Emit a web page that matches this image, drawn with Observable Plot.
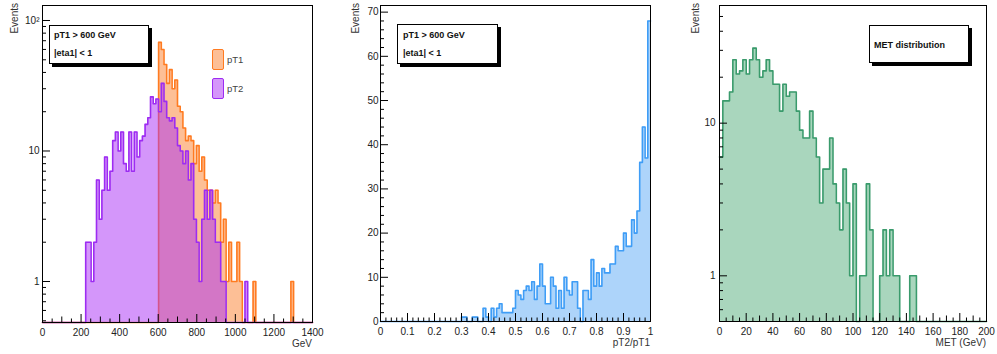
<!DOCTYPE html>
<html><head><meta charset="utf-8">
<script src="https://cdn.jsdelivr.net/npm/d3@7"></script>
<script src="https://cdn.jsdelivr.net/npm/@observablehq/plot@0.6"></script>
<style>
body{margin:0;background:#fff;font-family:"Liberation Sans",Arial,sans-serif;}
#wrap{position:relative;width:997px;height:354px;overflow:hidden;background:#fff;}
.panel{position:absolute;top:0;}
.box{position:absolute;border:1px solid #000;background:#fff;box-shadow:3px 3px 0 #000;box-sizing:border-box;}
.bt{position:absolute;font-weight:bold;font-size:9px;color:#111;white-space:nowrap;}
.t{position:absolute;font-size:10px;color:#333;white-space:nowrap;line-height:12px;}
.v{position:absolute;font-size:10px;color:#333;white-space:nowrap;writing-mode:vertical-rl;transform:rotate(180deg);line-height:12px;}
.sw{position:absolute;box-sizing:border-box;border-radius:2px;}
</style></head><body><div id="wrap"></div>
<script>
// ---------- data ----------
// Panel 1: pT1 / pT2 histograms, 100 bins of 14 GeV from 0 to 1400 GeV
const ptBinWidth = 14;
const pt1Counts = [
  0,0,0,0,0,0,0,0,0,0, 0,0,0,0,0,0,0,0,0,0,
  0,0,0,0,0,0,0,0,0,0, 0,0,0,0,0,0,0,0,0,0,
  0,0,0,68,60,46,33,42,30,35, 22,20,15,12,13,12,8,11,7,9,
  6,5,5,4,5,4,2,3,1,2, 1,1,2,1,0,0,0,0,1,0,
  0,0,0,0,0,0,0,0,0,0, 0,0,1,0,0,0,0,0,0,0];
const pt2Counts = [
  0,0,0,0,0,0,0,0,0,0, 0,0,0,0,0,0,2,2,1,2,
  6,3,5,9,5,7,12,14,10,14, 8,7,14,7,14,9,12,13,16,18,
  26,23,25,20,33,24,18,17,18,15, 11,10,8,10,6,8,3,2,1,3,
  5,3,5,3,2,2,1,1,0,0, 0,0,0,0,0,1,0,0,0,0,
  0,0,0,0,0,0,0,0,0,0, 0,0,0,0,0,0,0,0,0,0];
// Panel 2: pT2/pT1, 100 bins of 0.01
const ratioBinWidth = 0.01;
const ratioCounts = [
  0,0,0,0,0,0,0,0,0,0, 0,0,0,0,0,0,0,0,0,0,
  0,0,0,0,0,0,0,0,0,0, 1,1,0,0,1,1,0,0,3,1,
  0,3,1,3,4,2,2,2,2,3, 7,6,5,7,8,7,9,5,8,13,
  8,4,4,10,8,3,7,3,10,7, 6,9,9,3,0,7,7,5,14,8,
  11,8,12,11,11,13,13,17,16,16, 20,17,17,23,20,25,36,44,37,68];
// Panel 3: MET, 80 bins of 2.5 GeV
const metBinWidth = 2.5;
const metCounts = [
  6,14,14,16,26,21,22,26,21,26, 31,26,20,22,26,22,18,18,12,18,
  15,16,16,12,9,8,8,12,8,6, 3,5,5,8,4,3,2,5,3,1,
  4,0,1,1,4,2,0,0,1,2, 1,2,1,1,0,0,0,1,1,0,
  0,0,0,0,0,0,0,0,0,0, 0,0,0,0,0,0,0,0,0,0];

// tick labels
const xTicks1 = [0,200,400,600,800,1000,1200,1400];
const yTicks1 = [1,10,100];
const xTicks2 = [0,0.1,0.2,0.3,0.4,0.5,0.6,0.7,0.8,0.9,1];
const yTicks2 = [0,10,20,30,40,50,60,70];
const xTicks3 = [0,20,40,60,80,100,120,140,160,180,200];
const yTicks3 = [1,10];

// colours
const orangeLine = "#ff7b21", orangeFill = "#fdbf96";
const purpleLine = "#9d2cf2", purpleFill = "#a92df5";
const blueLine = "#3f9df6", blueFill = "#add4fa";
const greenLine = "#3a9b6c", greenFill = "#a9d6bd";

// ---------- helpers ----------
function stepRows(counts, lo, w, floor) {
  const rows = counts.map((c, i) => ({x: lo + i * w, y: Math.max(c, floor)}));
  rows.push({x: lo + counts.length * w, y: Math.max(counts[counts.length - 1], floor)});
  return rows;
}
function tickRules(fw, fh, xs, ys) {
  const m = [];
  for (const [vals, len] of xs) m.push(Plot.ruleX(vals, {x: d => d, insetTop: fh - len, stroke: "#000", strokeWidth: 1}));
  for (const [vals, len] of ys) m.push(Plot.ruleY(vals, {y: d => d, insetRight: fw - len, stroke: "#000", strokeWidth: 1}));
  return m;
}
const logMinor = (lo, hi) => {
  const out = [];
  for (let e = -1; e <= 3; e++) for (let k = 2; k <= 9; k++) { const v = k * 10 ** e; if (v >= lo && v <= hi) out.push(+v.toPrecision(3)); }
  for (let k = 5; k <= 9; k++) { const v = k / 10; if (v >= lo && v <= hi && !out.includes(v)) out.push(v); }
  return out;
};
const style = {fontFamily: "Liberation Sans, Arial, sans-serif", fontSize: "10px", color: "#222", background: "transparent", overflow: "visible"};
const wrap = document.getElementById("wrap");
function place(svg, left) { const d = document.createElement("div"); d.className = "panel"; d.style.left = left + "px"; d.appendChild(svg); wrap.appendChild(d); }
function html(cls, text, css) { const e = document.createElement("div"); e.className = cls; e.textContent = text; Object.assign(e.style, css); wrap.appendChild(e); return e; }

// ---------- panel 1 ----------
{
  const yDom = [0.485, 130.3];
  const fw = 270, fh = 317;
  const r1 = stepRows(pt1Counts, 0, ptBinWidth, yDom[0]);
  const r2 = stepRows(pt2Counts, 0, ptBinWidth, yDom[0]);
  const svg = Plot.plot({
    width: 330, height: 354, marginLeft: 42, marginRight: 18, marginTop: 5, marginBottom: 32, style,
    x: {domain: [0, 1400]},
    y: {type: "log", domain: yDom},
    marks: [
      Plot.areaY(r1, {x: "x", y1: () => yDom[0], y2: "y", curve: "step-after", fill: orangeFill}),
      Plot.lineY(r1, {x: "x", y: "y", curve: "step-after", stroke: orangeLine, strokeWidth: 1.6}),
      Plot.areaY(r2, {x: "x", y1: () => yDom[0], y2: "y", curve: "step-after", fill: purpleFill, fillOpacity: 0.5}),
      Plot.lineY(r2, {x: "x", y: "y", curve: "step-after", stroke: purpleLine, strokeWidth: 1.6}),
      ...tickRules(fw, fh,
        [[xTicks1, 8], [d3.range(100, 1400, 200), 5.5], [d3.range(50, 1400, 100), 3.5]],
        [[yTicks1, 8], [logMinor(yDom[0], yDom[1]), 4]]),
      Plot.frame({stroke: "#000", strokeWidth: 1}),
      Plot.axisX(xTicks1, {tickSize: 0, tickPadding: 6, label: null, tickFormat: d => String(d)}),
      Plot.axisY(yTicks1, {tickSize: 0, tickPadding: 3, label: null, tickFormat: d => d === 100 ? "10²" : String(d)})
    ]
  });
  place(svg, 0);
}
// ---------- panel 2 ----------
{
  const yDom = [0, 71.5];
  const fw = 270, fh = 316;
  const r = stepRows(ratioCounts, 0, ratioBinWidth, 0);
  const svg = Plot.plot({
    width: 340, height: 354, marginLeft: 50, marginRight: 20, marginTop: 5, marginBottom: 33, style,
    x: {domain: [0, 1]},
    y: {domain: yDom},
    marks: [
      Plot.areaY(r, {x: "x", y1: () => 0, y2: "y", curve: "step-after", fill: blueFill}),
      Plot.lineY(r, {x: "x", y: "y", curve: "step-after", stroke: blueLine, strokeWidth: 1.6}),
      ...tickRules(fw, fh,
        [[xTicks2, 8], [d3.range(1, 50).map(i => i * 0.02).filter(v => Math.abs(v * 10 - Math.round(v * 10)) > 1e-6), 3.5]],
        [[yTicks2, 8], [d3.range(0, 72, 2).filter(v => v % 10 !== 0), 4]]),
      Plot.frame({stroke: "#000", strokeWidth: 1}),
      Plot.axisX(xTicks2, {tickSize: 0, tickPadding: 6, label: null, tickFormat: d => String(+d.toFixed(1))}),
      Plot.axisY(yTicks2, {tickSize: 0, tickPadding: 2, label: null, tickFormat: d => String(d)})
    ]
  });
  place(svg, 330);
}
// ---------- panel 3 ----------
{
  const yDom = [0.502, 59];
  const fw = 267, fh = 316;
  const r = stepRows(metCounts, 0, metBinWidth, yDom[0]);
  const svg = Plot.plot({
    width: 327, height: 354, marginLeft: 49, marginRight: 11, marginTop: 5, marginBottom: 33, style,
    x: {domain: [0, 200]},
    y: {type: "log", domain: yDom},
    marks: [
      Plot.areaY(r, {x: "x", y1: () => yDom[0], y2: "y", curve: "step-after", fill: greenFill}),
      Plot.lineY(r, {x: "x", y: "y", curve: "step-after", stroke: greenLine, strokeWidth: 1.6}),
      ...tickRules(fw, fh,
        [[xTicks3, 8], [d3.range(10, 200, 20), 5.5], [d3.range(5, 200, 10), 3.5]],
        [[yTicks3, 8], [logMinor(yDom[0], yDom[1]), 4]]),
      Plot.frame({stroke: "#000", strokeWidth: 1}),
      Plot.axisX(xTicks3, {tickSize: 0, tickPadding: 6, label: null, tickFormat: d => String(d)}),
      Plot.axisY(yTicks3, {tickSize: 0, tickPadding: 4, label: null, tickFormat: d => String(d)})
    ]
  });
  place(svg, 670);
}

// ---------- titles, boxes, legend ----------
html("v", "Events", {left: "9px", top: "3px"});
html("v", "Events", {left: "350px", top: "3px"});
html("v", "Events", {left: "690px", top: "3px"});
html("t", "GeV", {right: (997 - 312) + "px", top: "338px"});
html("t", "pT2/pT1", {right: (997 - 650) + "px", top: "337px"});
html("t", "MET (GeV)", {right: (997 - 986) + "px", top: "337px"});

function box(left, top, w, h, lines) {
  const b = document.createElement("div"); b.className = "box";
  Object.assign(b.style, {left: left + "px", top: top + "px", width: w + "px", height: h + "px"});
  wrap.appendChild(b);
  for (const [txt, dx, dy] of lines) html("bt", txt, {left: (left + dx) + "px", top: (top + dy) + "px"});
}
box(49, 25, 100, 39, [["pT1 > 600 GeV", 5, 5], ["|eta1| < 1", 5, 23]]);
box(397, 24, 101, 40, [["pT1 > 600 GeV", 6, 6], ["|eta1| < 1", 6, 24]]);
box(869, 25, 100, 38, [["MET distribution", 5, 15]]);

html("sw", "", {left: "212px", top: "49px", width: "12px", height: "21px", background: orangeFill, border: "1.5px solid " + orangeLine});
html("sw", "", {left: "212px", top: "78px", width: "12px", height: "21px", background: "#d596fa", border: "1.5px solid " + purpleLine});
html("t", "pT1", {left: "227px", top: "54px", fontSize: "9.5px", color: "#444"});
html("t", "pT2", {left: "227px", top: "83px", fontSize: "9.5px", color: "#444"});
</script>
</body></html>
